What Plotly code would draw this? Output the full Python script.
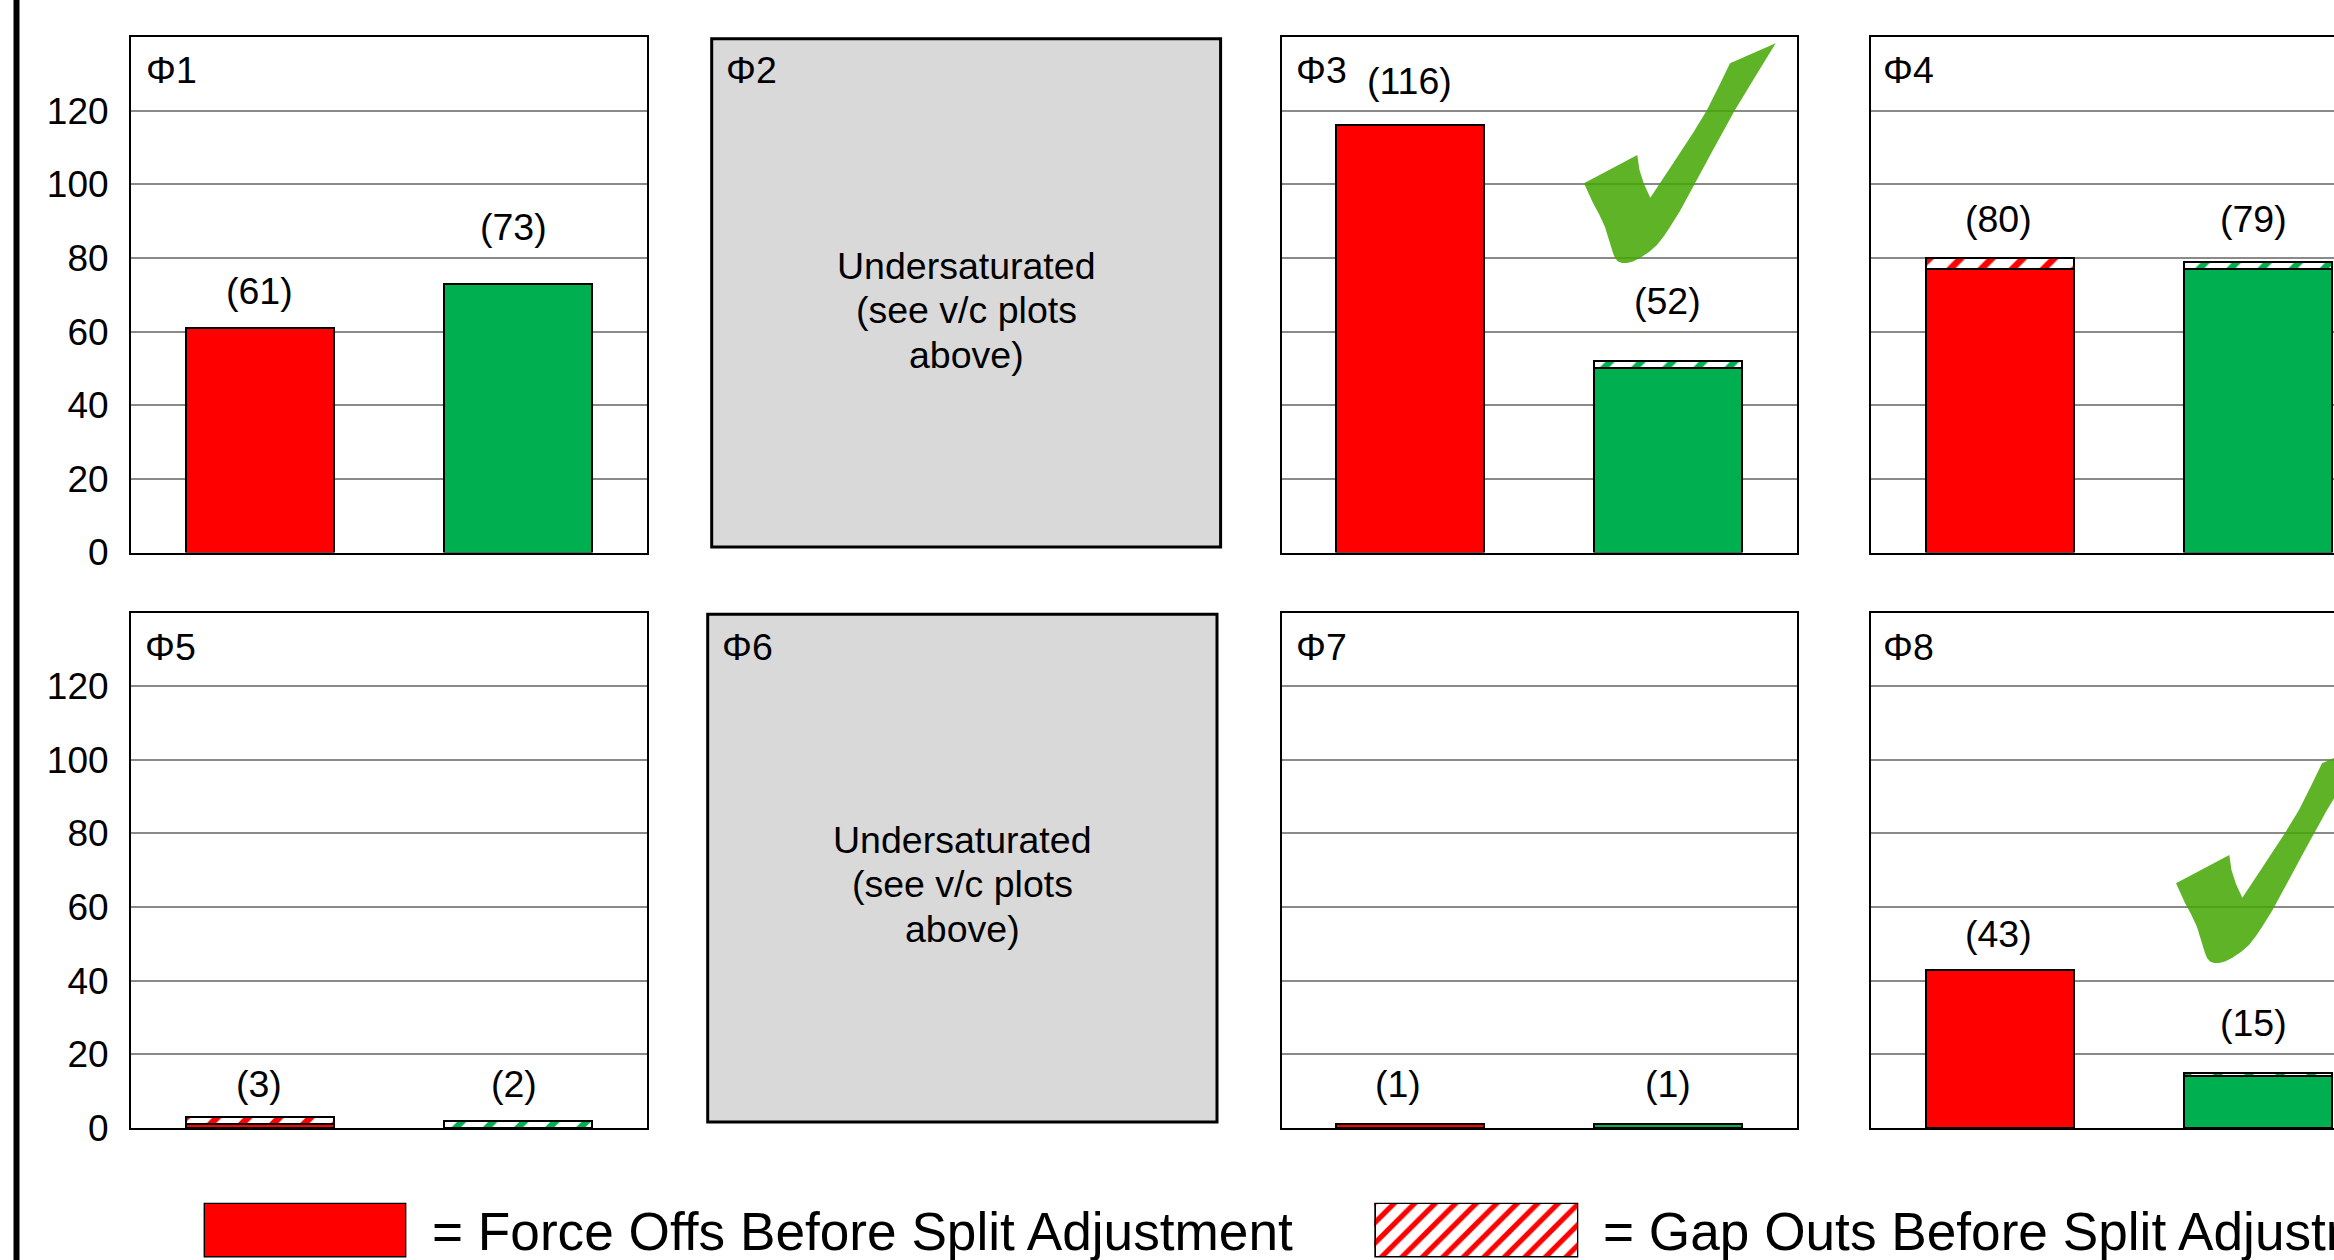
import plotly.graph_objects as go

W, H = 2334, 1260
FONT = "Liberation Sans"

# Phase data: force offs and gap outs, before and after the split adjustment
periods = ["Before", "After"]
phi1_force, phi1_gap = [61, 73], [0, 0]
phi3_force, phi3_gap = [116, 50], [0, 2]
phi4_force, phi4_gap = [77, 77], [3, 2]
phi5_force, phi5_gap = [1, 0], [2, 2]
phi7_force, phi7_gap = [1, 1], [0, 0]
phi8_force, phi8_gap = [43, 14], [0, 1]
y_ticks = [0, 20, 40, 60, 80, 100, 120]

RED, GREEN = "#FF0000", "#00B050"
BAR_COLORS = [RED, GREEN]


def fx(px):
    return px / W


def fy(py):
    return 1 - py / H


# name, series, left, top, heading position, centres of the two total labels
panels = [
    ("Φ1", phi1_force, phi1_gap, 131, 37, (144, 69.5), [(259, 290.5), (513.5, 226.5)]),
    ("Φ3", phi3_force, phi3_gap, 1281.5, 37, (1294, 69.5), [(1409.5, 80.5), (1667, 300.5)]),
    ("Φ4", phi4_force, phi4_gap, 1871, 37, (1881, 69.5), [(1998.5, 218.5), (2253, 218.5)]),
    ("Φ5", phi5_force, phi5_gap, 131, 612.5, (143, 647), [(259, 1084), (513.5, 1084)]),
    ("Φ7", phi7_force, phi7_gap, 1281.5, 612.5, (1294, 647), [(1398, 1084), (1667.5, 1084)]),
    ("Φ8", phi8_force, phi8_gap, 1871, 612.5, (1881, 647), [(1998.5, 933.5), (2253, 1022.5)]),
]
PANEL_W, PANEL_H = 515.5, 515.5

fig = go.Figure()
layout = dict(
    template="none",
    width=W, height=H, autosize=False,
    margin=dict(l=0, r=0, t=0, b=0, pad=0),
    paper_bgcolor="white", plot_bgcolor="white",
    barmode="stack", bargap=0.425, showlegend=False,
    font=dict(family=FONT, size=37, color="black"),
)
annotations, shapes = [], []


def label(text, px, py, size=37.5, anchor="center"):
    annotations.append(dict(
        text=text, xref="paper", yref="paper", x=fx(px), y=fy(py),
        xanchor=anchor, yanchor="middle", showarrow=False,
        font=dict(family=FONT, size=size, color="black"),
    ))


for i, (name, force, gap, left, top, head, totals) in enumerate(panels, start=1):
    right = min(left + PANEL_W, W)
    span = (right - left) / (PANEL_W / 2)
    xa, ya = f"xaxis{i}", f"yaxis{i}"
    xr, yr = f"x{i}", f"y{i}"
    fig.add_trace(go.Bar(
        x=periods, y=force, xaxis=xr, yaxis=yr,
        marker=dict(color=BAR_COLORS, line=dict(color="black", width=2)),
    ))
    fig.add_trace(go.Bar(
        x=periods, y=gap, xaxis=xr, yaxis=yr,
        marker=dict(
            color="white", line=dict(color="black", width=2),
            pattern=dict(shape="/", fgcolor=BAR_COLORS, bgcolor="white", size=22, solidity=0.3),
        ),
    ))
    layout[xa] = dict(
        domain=[fx(left), fx(right)], range=[-0.5, -0.5 + span], type="category",
        categoryorder="array", categoryarray=periods, showticklabels=False, ticks="",
        showgrid=False, showline=True, linecolor="black", linewidth=2, mirror=True,
        anchor=yr, zeroline=False, automargin=False,
    )
    layout[ya] = dict(
        domain=[fy(top + PANEL_H), fy(top)], range=[0, 140], tickvals=y_ticks,
        showticklabels=left < 200, ticks="", ticklabelstandoff=13,
        tickfont=dict(family=FONT, size=37, color="black"),
        showgrid=True, gridcolor="#8A8A8A", gridwidth=2, zeroline=False,
        showline=True, linecolor="black", linewidth=2,
        mirror=left + PANEL_W <= W, anchor=xr, automargin=False,
    )
    label(name, head[0], head[1], anchor="left")
    for pos, f, g in zip(totals, force, gap):
        label(f"({f + g})", pos[0], pos[1])

# Phases with no data: grey placeholder boxes
for name, x0, y0, x1, y1, head_x, head_y, cx, lines_y in [
    ("Φ2", 711.7, 38.7, 1220.6, 547, 723.5, 69.5, 966.5, (265.5, 310, 354.5)),
    ("Φ6", 707.7, 614.3, 1217, 1122, 719.5, 647, 962, (840, 884.5, 929)),
]:
    shapes.append(dict(
        type="rect", xref="paper", yref="paper", layer="above",
        x0=fx(x0), x1=fx(x1), y0=fy(y0), y1=fy(y1),
        fillcolor="#D9D9D9", line=dict(color="black", width=3),
    ))
    label(name, head_x, head_y, anchor="left")
    for line, ly in zip(["Undersaturated", "(see v/c plots", "above)"], lines_y):
        label(line, cx, ly)

# Check mark, drawn at two places over the charts
CHECK_OUTLINE = [
    (1584, 183.3), (1637.3, 155), (1639.5, 170), (1644, 184), (1650.3, 197.7), (1672, 165),
    (1693, 133), (1707, 110), (1720, 84), (1730, 63.3), (1775.7, 43.3), (1755, 77), (1735, 110),
    (1713, 150), (1693, 187), (1680, 211), (1670, 227), (1664, 236), (1657, 245), (1649, 252),
    (1640, 258), (1633, 261.5), (1627, 263), (1622, 263), (1618, 261.5), (1615, 258),
    (1613, 253), (1609, 240), (1605, 227), (1599, 214), (1593, 203),
]
for dx, dy in [(0, 0), (592, 700)]:
    path = "M " + " L ".join(f"{fx(x + dx):.5f},{fy(y + dy):.5f}" for x, y in CHECK_OUTLINE) + " Z"
    shapes.append(dict(
        type="path", xref="paper", yref="paper", layer="above", path=path,
        fillcolor="rgb(67,166,0)", opacity=0.85, line=dict(width=0),
    ))

# Heavy rule along the left edge
shapes.append(dict(
    type="rect", xref="paper", yref="paper", layer="above",
    x0=fx(13.5), x1=fx(19.5), y0=0, y1=1, fillcolor="black", line=dict(width=0),
))

# Key: one swatch per bar style, each a single bar on its own hidden axes
key_entries = [
    ("= Force Offs Before Split Adjustment", 203.6, 406.4, 430, dict(color=RED)),
    ("= Gap Outs Before Split Adjustment", 1374.3, 1578.3, 1601,
     dict(color="white", pattern=dict(shape="/", fgcolor=RED, bgcolor="white", size=14.5, solidity=0.36))),
]
for j, (text, x0, x1, tx, marker) in enumerate(key_entries, start=7):
    fig.add_trace(go.Bar(
        x=[0], y=[1], width=[1], xaxis=f"x{j}", yaxis=f"y{j}",
        marker=dict(line=dict(color="black", width=3), **marker),
    ))
    layout[f"xaxis{j}"] = dict(domain=[fx(x0), fx(x1)], range=[-0.5, 0.5], visible=False, anchor=f"y{j}")
    layout[f"yaxis{j}"] = dict(domain=[fy(1257.5), fy(1202.7)], range=[0, 1], visible=False, anchor=f"x{j}")
    label(text, tx, 1231, size=53.2, anchor="left")

layout["annotations"] = annotations
layout["shapes"] = shapes
fig.update_layout(**layout)
fig.write_html("out.html", config=dict(displayModeBar=False))
